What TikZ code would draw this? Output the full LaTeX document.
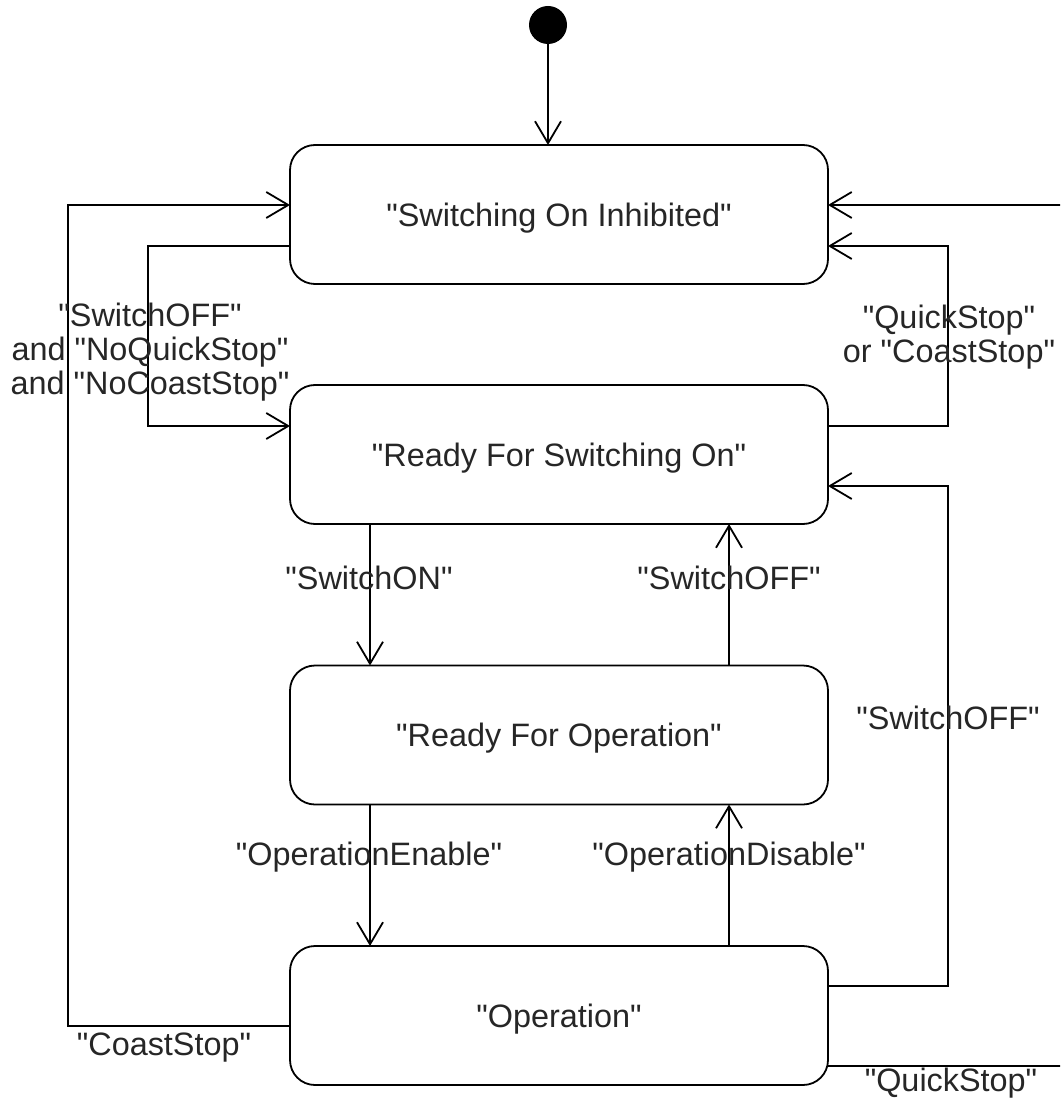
\documentclass[tikz,border=0pt]{standalone}
\usepackage{fontspec}
\newfontfamily\diafont{Liberation Sans}
\usetikzlibrary{arrows.meta,calc}
\begin{document}
\begin{tikzpicture}[x=0.5pt,y=-0.5pt,
  every node/.style={font=\diafont\fontsize{16.2}{17}\selectfont, text=black!85},
  state/.style={draw, line width=0.9pt, rounded corners=12.5pt, minimum width=269pt, minimum height=69.5pt, inner sep=0pt, outer sep=0pt, text depth=0pt},
  conn/.style={draw, line width=0.9pt, -{Straight Barb[length=11pt,width=13pt,line width=0.9pt]}},
  lbl/.style={align=center, inner sep=0pt}]
\useasboundingbox (0,0) rectangle (1060,1106);
\clip (0,0) rectangle (1060,1106);
% initial pseudo-state
\node[circle, fill=black, minimum size=19pt, inner sep=0pt] (init) at (548,25) {};
% states
\node[state] (s1) at (559,214.5) {"Switching On Inhibited"};
\node[state] (s2) at (559,454.5) {"Ready For Switching On"};
\node[state] (s3) at (559,735) {"Ready For Operation"};
\node[state] (s4) at (559,1015.5) {"Operation"};
% initial transition
\draw[conn] (init.south) -- (init.south |- s1.north);
% left outer: CoastStop
\draw[conn] ($(s4.north west)+(0,80)$) -- ++(-222,0) |- ($(s1.north west)+(0,60)$);
% left inner: SwitchOFF and ...
\draw[conn] ($(s1.north west)+(0,101)$) -- ++(-142,0) |- ($(s2.north west)+(0,41)$);
% right inner: QuickStop or CoastStop
\draw[conn] ($(s2.north east)+(0,41)$) -- ++(120,0) |- ($(s1.north east)+(0,101)$);
% right: SwitchOFF from Operation
\draw[conn] ($(s4.north east)+(0,40)$) -- ++(120,0) |- ($(s2.north east)+(0,101)$);
% right outer: QuickStop (runs off the page)
\draw[conn] ($(s4.north east)+(0,120)$) -- ++(262,0) |- ($(s1.north east)+(0,60)$);
% vertical transitions
\draw[conn] ($(s2.south west)+(80,0)$) -- ($(s3.north west)+(80,0)$);
\draw[conn] ($(s3.north west)+(439,0)$) -- ($(s2.south west)+(439,0)$);
\draw[conn] ($(s3.south west)+(80,0)$) -- ($(s4.north west)+(80,0)$);
\draw[conn] ($(s4.north west)+(439,0)$) -- ($(s3.south west)+(439,0)$);
% labels
\node[lbl] (l1) at (150,352) {"SwitchOFF"\\and "NoQuickStop"\\and "NoCoastStop"};
\node[lbl] (l2) at (949,337) {"QuickStop"\\or "CoastStop"};
\node[lbl] (l3) at (369,578) {"SwitchON"};
\node[lbl] (l4) at (729,578) {"SwitchOFF"};
\node[lbl] (l5) at (948,718) {"SwitchOFF"};
\node[lbl] (l6) at (369,857) {"OperationEnable"};
\node[lbl] (l7) at (729,857) {"OperationDisable"};
\node[lbl] (l8) at (164,1048) {"CoastStop"};
\node[lbl] (l9) at (951,1083) {"QuickStop"};
\end{tikzpicture}
\end{document}
